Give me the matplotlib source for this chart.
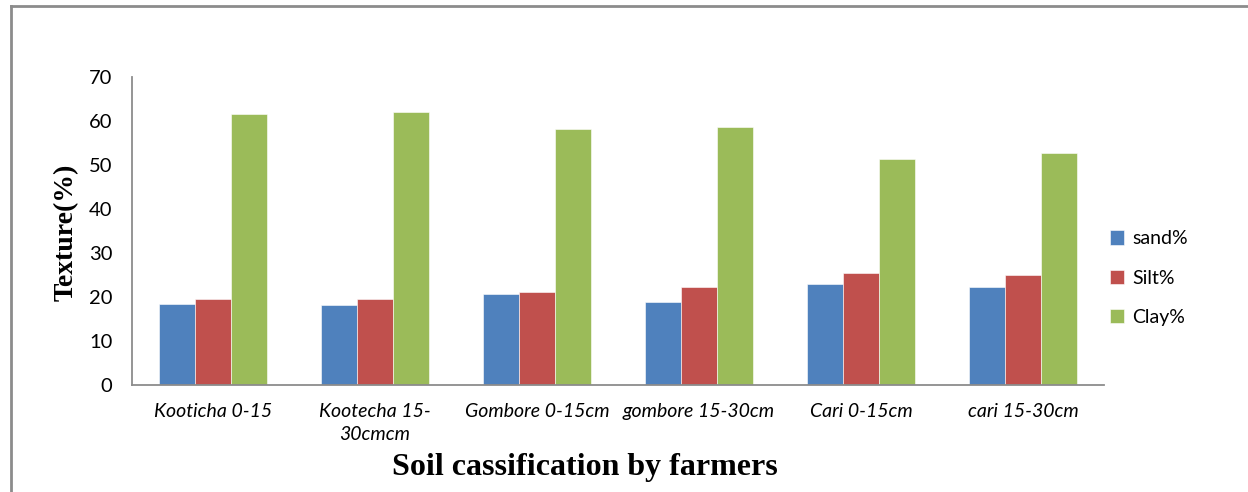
import matplotlib
matplotlib.use("Agg")
import matplotlib.pyplot as plt
from matplotlib.lines import Line2D
import numpy as np

categories = ["Kooticha 0-15", "Kootecha 15-\n30cmcm", "Gombore 0-15cm",
              "gombore 15-30cm", "Cari 0-15cm", "cari 15-30cm"]
sand = [18.5, 18.1, 20.6, 18.9, 23.0, 22.2]
silt = [19.5, 19.6, 21.1, 22.2, 25.4, 25.0]
clay = [61.7, 62.0, 58.2, 58.7, 51.3, 52.7]
series_names = ["sand%", "Silt%", "Clay%"]
colors = ["#4F81BD", "#C0504D", "#9BBB59"]
yticks = [0, 10, 20, 30, 40, 50, 60, 70]

fig = plt.figure(figsize=(12.48, 4.92), dpi=100)
ax = fig.add_axes([132 / 1248, 1 - 385 / 492, (1104 - 132) / 1248, (385 - 77) / 492])

x = np.arange(len(categories))
w = 0.222
for i, (vals, name, c) in enumerate(zip([sand, silt, clay], series_names, colors)):
    ax.bar(x + (i - 1) * w, vals, width=w, color=c, label=name,
           edgecolor="white", linewidth=0.4)

ax.set_xlim(-0.5, len(categories) - 0.5)
ax.set_ylim(0, 70)
ax.set_yticks(yticks)
ax.set_xticks(x)
ax.set_xticklabels(categories, fontstyle="italic", fontsize=14, family="Lato",
                   linespacing=1.45)
ax.tick_params(axis="x", length=0, pad=13)
ax.tick_params(axis="y", length=0, pad=14, labelsize=14.5)
for lab in ax.get_yticklabels():
    lab.set_family("Lato")
for s in ["top", "right"]:
    ax.spines[s].set_visible(False)
for s in ["left", "bottom"]:
    ax.spines[s].set_color("#8C8C8C")
    ax.spines[s].set_linewidth(1.3)

fig.text(66 / 1248, 1 - 232 / 492, "Texture(%)", rotation=90, ha="center", va="center",
         family="Liberation Serif", fontweight="bold", fontsize=20)
fig.text(585 / 1248, 1 - 468 / 492, "Soil cassification by farmers", ha="center", va="center",
         family="Liberation Serif", fontweight="bold", fontsize=23)

leg = ax.legend(loc="center left", bbox_to_anchor=(0.988, 0.347), frameon=False,
                prop={"family": "Lato", "size": 14}, handlelength=0.75, handleheight=0.75,
                handletextpad=0.4, labelspacing=1.15)

# outer chart-area border
fig.add_artist(Line2D([11 / 1248, 11 / 1248], [0, 1 - 6 / 492], transform=fig.transFigure,
                      color="#8C8C8C", linewidth=2))
fig.add_artist(Line2D([11 / 1248, 1], [1 - 6 / 492, 1 - 6 / 492], transform=fig.transFigure,
                      color="#8C8C8C", linewidth=2))

fig.savefig("out.png", dpi=100)
